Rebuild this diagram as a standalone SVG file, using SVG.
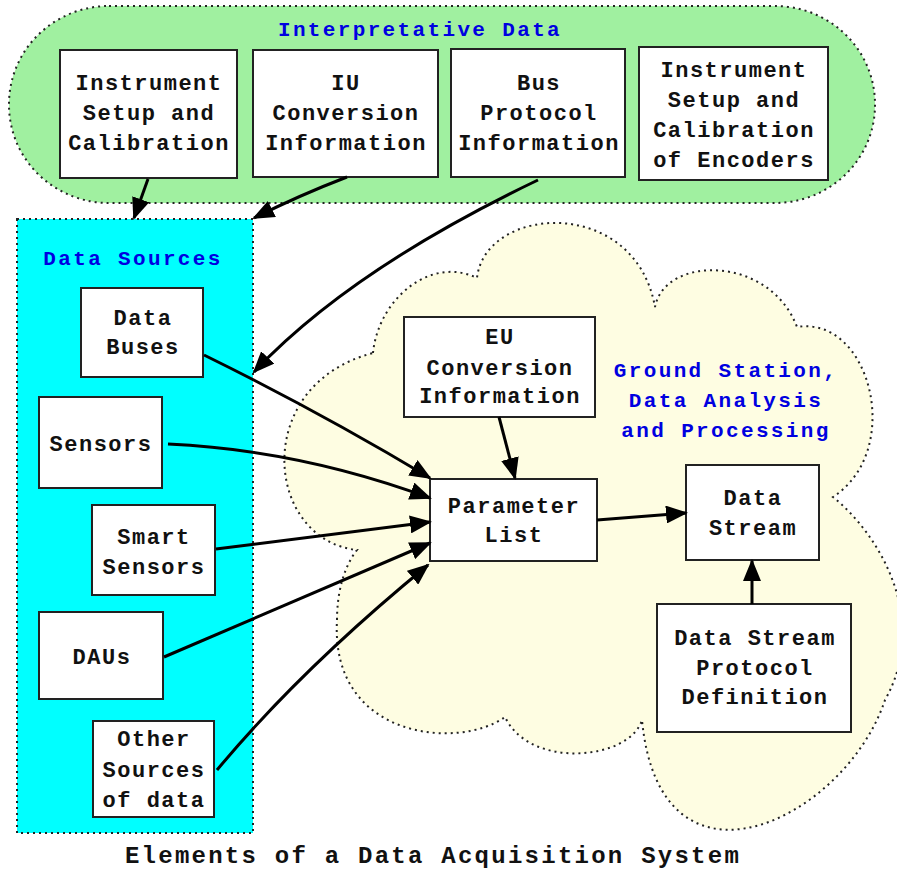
<svg xmlns="http://www.w3.org/2000/svg" width="897" height="871" viewBox="0 0 897 871">
  <defs>
    <marker id="arrow" markerUnits="userSpaceOnUse" markerWidth="22" markerHeight="18" refX="20" refY="9" orient="auto">
      <path d="M0,0 L22,9 L0,18 z" fill="#000"/>
    </marker>
    <style>
      .region { stroke: #222; stroke-width: 2; stroke-dasharray: 2 4; }
      .box { fill: #fff; stroke: #222; stroke-width: 2; }
      .lbl { font-family: "Liberation Mono", "Courier New", monospace; font-weight: bold; font-size: 22px; letter-spacing: 1.5px; fill: #111; text-anchor: middle; }
      .head { font-family: "Liberation Mono", "Courier New", monospace; font-weight: bold; font-size: 21px; letter-spacing: 2.35px; fill: #0000e0; text-anchor: middle; }
      .title { font-family: "Liberation Mono", "Courier New", monospace; font-weight: bold; font-size: 24px; letter-spacing: 2.25px; fill: #111; text-anchor: middle; }
      .wire { fill: none; stroke: #000; stroke-width: 3; marker-end: url(#arrow); }
    </style>
  </defs>
  <rect width="897" height="871" fill="#fff"/>

  <!-- Interpretative data region -->
  <g id="interpretative-data">
    <rect class="region" x="9" y="6" width="866" height="197" rx="100" ry="98" fill="#a0f0a0"/>
    <text class="head" x="420" y="36">Interpretative Data</text>
  </g>

  <!-- Ground station cloud -->
  <g id="ground-station">
    <path class="region" fill="#fefde2" d="M373,353 C378,300 430,255 477,278 C485,205 635,195 655,307 C665,255 770,255 797,327 C870,315 905,450 833,497 C880,535 930,620 885,700 C845,820 660,910 642,720 C630,760 530,770 505,717 C460,750 330,740 337,620 C337,590 345,565 357,550 C265,540 250,385 373,353 Z"/>
    <text class="head" x="726" y="377">Ground Station,</text>
    <text class="head" x="726" y="407">Data Analysis</text>
    <text class="head" x="726" y="437">and Processing</text>
  </g>

  <!-- Data sources region -->
  <g id="data-sources">
    <rect class="region" x="17" y="219" width="236" height="614" fill="#00ffff"/>
    <text class="head" x="133" y="265">Data Sources</text>
  </g>

  <g id="instrument-setup">
    <rect class="box" x="60" y="50" width="177" height="128"/>
    <text class="lbl" x="149" y="90">Instrument</text>
    <text class="lbl" x="149" y="120">Setup and</text>
    <text class="lbl" x="149" y="150">Calibration</text>
  </g>
  <g id="iu-conversion">
    <rect class="box" x="253" y="50" width="185" height="127"/>
    <text class="lbl" x="346" y="90">IU</text>
    <text class="lbl" x="346" y="120">Conversion</text>
    <text class="lbl" x="346" y="150">Information</text>
  </g>
  <g id="bus-protocol">
    <rect class="box" x="451" y="49" width="174" height="128"/>
    <text class="lbl" x="539" y="90">Bus</text>
    <text class="lbl" x="539" y="120">Protocol</text>
    <text class="lbl" x="539" y="150">Information</text>
  </g>
  <g id="encoder-calibration">
    <rect class="box" x="639" y="47" width="189" height="133"/>
    <text class="lbl" x="734" y="77">Instrument</text>
    <text class="lbl" x="734" y="107">Setup and</text>
    <text class="lbl" x="734" y="137">Calibration</text>
    <text class="lbl" x="734" y="167">of Encoders</text>
  </g>

  <g id="data-buses">
    <rect class="box" x="81" y="288" width="122" height="89"/>
    <text class="lbl" x="143" y="325">Data</text>
    <text class="lbl" x="143" y="354">Buses</text>
  </g>
  <g id="sensors">
    <rect class="box" x="39" y="397" width="123" height="91"/>
    <text class="lbl" x="101" y="451">Sensors</text>
  </g>
  <g id="smart-sensors">
    <rect class="box" x="92" y="505" width="123" height="90"/>
    <text class="lbl" x="154" y="544">Smart</text>
    <text class="lbl" x="154" y="574">Sensors</text>
  </g>
  <g id="daus">
    <rect class="box" x="39" y="612" width="124" height="87"/>
    <text class="lbl" x="102" y="664">DAUs</text>
  </g>
  <g id="other-sources">
    <rect class="box" x="93" y="721" width="121" height="96"/>
    <text class="lbl" x="154" y="746">Other</text>
    <text class="lbl" x="154" y="777">Sources</text>
    <text class="lbl" x="154" y="807">of data</text>
  </g>

  <g id="eu-conversion">
    <rect class="box" x="404" y="317" width="191" height="100"/>
    <text class="lbl" x="500" y="344">EU</text>
    <text class="lbl" x="500" y="375">Conversion</text>
    <text class="lbl" x="500" y="403">Information</text>
  </g>
  <g id="parameter-list">
    <rect class="box" x="430" y="479" width="167" height="82"/>
    <text class="lbl" x="514" y="513">Parameter</text>
    <text class="lbl" x="514" y="542">List</text>
  </g>
  <g id="data-stream">
    <rect class="box" x="686" y="465" width="133" height="95"/>
    <text class="lbl" x="753" y="505">Data</text>
    <text class="lbl" x="753" y="535">Stream</text>
  </g>
  <g id="stream-protocol">
    <rect class="box" x="657" y="604" width="194" height="128"/>
    <text class="lbl" x="755" y="645">Data Stream</text>
    <text class="lbl" x="755" y="675">Protocol</text>
    <text class="lbl" x="755" y="704">Definition</text>
  </g>

  <!-- Connectors -->
  <g id="connectors">
    <path class="wire" d="M148,179 L134,218"/>
    <path class="wire" d="M347,177 Q300,195 254,218"/>
    <path class="wire" d="M538,180 Q350,270 254,372"/>
    <path class="wire" d="M204,355 Q320,412 430,478"/>
    <path class="wire" d="M168,444 Q300,450 430,498"/>
    <path class="wire" d="M216,549 Q300,538 430,522"/>
    <path class="wire" d="M164,657 L430,543"/>
    <path class="wire" d="M217,770 Q300,670 428,565"/>
    <path class="wire" d="M499,417 L515,478"/>
    <path class="wire" d="M597,520 L686,513"/>
    <path class="wire" d="M752,604 L752,561"/>
  </g>

  <text class="title" x="433" y="863">Elements of a Data Acquisition System</text>
</svg>
